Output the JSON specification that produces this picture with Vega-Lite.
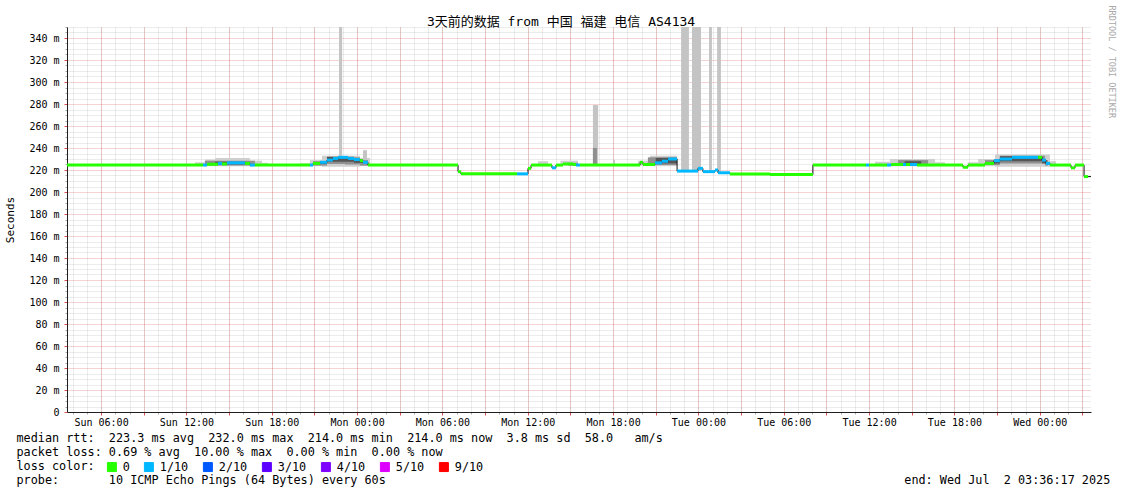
{
  "width": 1024,
  "height": 385,
  "autosize": {"type": "none"},
  "padding": {"left": 67, "top": 27, "right": 30, "bottom": 82},
  "config": {"view": {"stroke": null}, "font": "DejaVu Sans Mono", "axis": {"labelFont": "DejaVu Sans Mono", "titleFont": "DejaVu Sans Mono"}},
  "datasets": {
    "med": [
      {"s": "2025-06-29T03:36:17", "e": "2025-06-29T13:10", "m": 224.5, "l": "0"},
      {"s": "2025-06-29T13:10", "e": "2025-06-29T13:27", "m": 224.5, "l": "1/10"},
      {"s": "2025-06-29T13:27", "e": "2025-06-29T14:13", "m": 225.2, "l": "0"},
      {"s": "2025-06-29T14:13", "e": "2025-06-29T14:30", "m": 226, "l": "1/10"},
      {"s": "2025-06-29T14:30", "e": "2025-06-29T14:51", "m": 225.5, "l": "0"},
      {"s": "2025-06-29T14:51", "e": "2025-06-29T16:07", "m": 226.5, "l": "1/10"},
      {"s": "2025-06-29T16:07", "e": "2025-06-29T16:28", "m": 226, "l": "0"},
      {"s": "2025-06-29T16:28", "e": "2025-06-29T16:49", "m": 224.5, "l": "1/10"},
      {"s": "2025-06-29T16:49", "e": "2025-06-29T20:41", "m": 224.5, "l": "0"},
      {"s": "2025-06-29T20:41", "e": "2025-06-29T20:54", "m": 224.5, "l": "1/10"},
      {"s": "2025-06-29T20:54", "e": "2025-06-29T21:24", "m": 226, "l": "0"},
      {"s": "2025-06-29T21:24", "e": "2025-06-29T21:53", "m": 227, "l": "1/10"},
      {"s": "2025-06-29T21:53", "e": "2025-06-29T22:18", "m": 229, "l": "1/10"},
      {"s": "2025-06-29T22:18", "e": "2025-06-29T22:40", "m": 230.5, "l": "1/10"},
      {"s": "2025-06-29T22:40", "e": "2025-06-29T23:22", "m": 231.5, "l": "1/10"},
      {"s": "2025-06-29T23:22", "e": "2025-06-29T23:47", "m": 230.5, "l": "1/10"},
      {"s": "2025-06-29T23:47", "e": "2025-06-30T00:12", "m": 229.5, "l": "1/10"},
      {"s": "2025-06-30T00:12", "e": "2025-06-30T00:25", "m": 228.5, "l": "0"},
      {"s": "2025-06-30T00:25", "e": "2025-06-30T00:46", "m": 227, "l": "1/10"},
      {"s": "2025-06-30T00:46", "e": "2025-06-30T07:06", "m": 224.5, "l": "0"},
      {"s": "2025-06-30T07:06", "e": "2025-06-30T07:18", "m": 218.5, "l": "0"},
      {"s": "2025-06-30T07:18", "e": "2025-06-30T11:15", "m": 216.5, "l": "0"},
      {"s": "2025-06-30T11:15", "e": "2025-06-30T12:01", "m": 216.5, "l": "1/10"},
      {"s": "2025-06-30T12:01", "e": "2025-06-30T12:14", "m": 221.5, "l": "0"},
      {"s": "2025-06-30T12:14", "e": "2025-06-30T13:42", "m": 224.5, "l": "0"},
      {"s": "2025-06-30T13:42", "e": "2025-06-30T13:59", "m": 222, "l": "1/10"},
      {"s": "2025-06-30T13:59", "e": "2025-06-30T14:29", "m": 224.5, "l": "0"},
      {"s": "2025-06-30T14:29", "e": "2025-06-30T15:11", "m": 225.5, "l": "0"},
      {"s": "2025-06-30T15:11", "e": "2025-06-30T15:24", "m": 225, "l": "0"},
      {"s": "2025-06-30T15:24", "e": "2025-06-30T15:40", "m": 224.5, "l": "1/10"},
      {"s": "2025-06-30T15:40", "e": "2025-06-30T19:54", "m": 224.5, "l": "0"},
      {"s": "2025-06-30T19:54", "e": "2025-06-30T20:06", "m": 227, "l": "0"},
      {"s": "2025-06-30T20:06", "e": "2025-06-30T20:57", "m": 225, "l": "0"},
      {"s": "2025-06-30T20:57", "e": "2025-06-30T21:26", "m": 226.5, "l": "1/10"},
      {"s": "2025-06-30T21:26", "e": "2025-06-30T21:52", "m": 228, "l": "1/10"},
      {"s": "2025-06-30T21:52", "e": "2025-06-30T22:30", "m": 230, "l": "1/10"},
      {"s": "2025-06-30T22:30", "e": "2025-06-30T23:58", "m": 219, "l": "1/10"},
      {"s": "2025-06-30T23:58", "e": "2025-07-01T00:19", "m": 221.5, "l": "1/10"},
      {"s": "2025-07-01T00:19", "e": "2025-07-01T01:10", "m": 218.5, "l": "1/10"},
      {"s": "2025-07-01T01:10", "e": "2025-07-01T01:23", "m": 220, "l": "1/10"},
      {"s": "2025-07-01T01:23", "e": "2025-07-01T02:13", "m": 217.5, "l": "1/10"},
      {"s": "2025-07-01T02:13", "e": "2025-07-01T05:02", "m": 216.3, "l": "0"},
      {"s": "2025-07-01T05:02", "e": "2025-07-01T08:03", "m": 215.8, "l": "0"},
      {"s": "2025-07-01T08:03", "e": "2025-07-01T11:47", "m": 224.5, "l": "0"},
      {"s": "2025-07-01T11:47", "e": "2025-07-01T12:00", "m": 224.5, "l": "1/10"},
      {"s": "2025-07-01T12:00", "e": "2025-07-01T13:16", "m": 224.5, "l": "0"},
      {"s": "2025-07-01T13:16", "e": "2025-07-01T13:33", "m": 224.5, "l": "1/10"},
      {"s": "2025-07-01T13:33", "e": "2025-07-01T14:23", "m": 225, "l": "0"},
      {"s": "2025-07-01T14:23", "e": "2025-07-01T14:36", "m": 225, "l": "1/10"},
      {"s": "2025-07-01T14:36", "e": "2025-07-01T14:53", "m": 225, "l": "0"},
      {"s": "2025-07-01T14:53", "e": "2025-07-01T15:22", "m": 225, "l": "1/10"},
      {"s": "2025-07-01T15:22", "e": "2025-07-01T18:36", "m": 224.5, "l": "0"},
      {"s": "2025-07-01T18:36", "e": "2025-07-01T18:57", "m": 222.5, "l": "0"},
      {"s": "2025-07-01T18:57", "e": "2025-07-01T20:09", "m": 224.5, "l": "0"},
      {"s": "2025-07-01T20:09", "e": "2025-07-01T20:47", "m": 226, "l": "0"},
      {"s": "2025-07-01T20:47", "e": "2025-07-01T21:12", "m": 228.5, "l": "1/10"},
      {"s": "2025-07-01T21:12", "e": "2025-07-01T22:03", "m": 230, "l": "1/10"},
      {"s": "2025-07-01T22:03", "e": "2025-07-01T23:53", "m": 231.5, "l": "1/10"},
      {"s": "2025-07-01T23:53", "e": "2025-07-02T00:10", "m": 231.5, "l": "0"},
      {"s": "2025-07-02T00:10", "e": "2025-07-02T00:26", "m": 229, "l": "1/10"},
      {"s": "2025-07-02T00:26", "e": "2025-07-02T00:43", "m": 226, "l": "1/10"},
      {"s": "2025-07-02T00:43", "e": "2025-07-02T02:12", "m": 224.5, "l": "0"},
      {"s": "2025-07-02T02:12", "e": "2025-07-02T02:29", "m": 222, "l": "0"},
      {"s": "2025-07-02T02:29", "e": "2025-07-02T03:07", "m": 224.5, "l": "0"},
      {"s": "2025-07-02T03:07", "e": "2025-07-02T03:24", "m": 214, "l": "0"},
      {"s": "2025-07-02T03:36:17", "e": "2025-07-02T03:36:17", "m": 214, "l": "0"}
    ],
    "smoke": [
      {"s": "2025-06-29T12:36", "e": "2025-06-29T13:18", "lo": 224, "hi": 227, "k": "light"},
      {"s": "2025-06-29T13:18", "e": "2025-06-29T14:01", "lo": 223.5, "hi": 229.5, "k": "light"},
      {"s": "2025-06-29T14:01", "e": "2025-06-29T16:28", "lo": 223.5, "hi": 231, "k": "light"},
      {"s": "2025-06-29T16:28", "e": "2025-06-29T17:19", "lo": 223.5, "hi": 228.5, "k": "light"},
      {"s": "2025-06-29T17:19", "e": "2025-06-29T17:44", "lo": 224, "hi": 226.5, "k": "light"},
      {"s": "2025-06-29T19:59", "e": "2025-06-29T20:41", "lo": 224, "hi": 226, "k": "light"},
      {"s": "2025-06-29T20:41", "e": "2025-06-29T21:32", "lo": 223.5, "hi": 229, "k": "light"},
      {"s": "2025-06-29T21:32", "e": "2025-06-30T00:12", "lo": 223, "hi": 233, "k": "light"},
      {"s": "2025-06-30T00:12", "e": "2025-06-30T00:55", "lo": 223.5, "hi": 231, "k": "light"},
      {"s": "2025-06-30T12:43", "e": "2025-06-30T13:26", "lo": 224, "hi": 228, "k": "light"},
      {"s": "2025-06-30T14:18", "e": "2025-06-30T15:32", "lo": 224, "hi": 228.5, "k": "light"},
      {"s": "2025-06-30T19:45", "e": "2025-06-30T20:36", "lo": 224, "hi": 228.5, "k": "light"},
      {"s": "2025-06-30T20:36", "e": "2025-06-30T22:30", "lo": 223.5, "hi": 233, "k": "light"},
      {"s": "2025-07-01T12:25", "e": "2025-07-01T13:28", "lo": 224, "hi": 227.5, "k": "light"},
      {"s": "2025-07-01T13:28", "e": "2025-07-01T16:38", "lo": 223.5, "hi": 230, "k": "light"},
      {"s": "2025-07-01T16:38", "e": "2025-07-01T17:20", "lo": 224, "hi": 227, "k": "light"},
      {"s": "2025-07-01T18:57", "e": "2025-07-01T19:40", "lo": 224, "hi": 227, "k": "light"},
      {"s": "2025-07-01T19:40", "e": "2025-07-01T20:51", "lo": 223.5, "hi": 230, "k": "light"},
      {"s": "2025-07-01T20:51", "e": "2025-07-02T00:43", "lo": 223, "hi": 234, "k": "light"},
      {"s": "2025-07-02T00:43", "e": "2025-07-02T01:09", "lo": 224, "hi": 228, "k": "light"},
      {"s": "2025-06-29T22:44", "e": "2025-06-29T22:57", "lo": 226, "hi": 350, "k": "spike"},
      {"s": "2025-06-30T00:25", "e": "2025-06-30T00:42", "lo": 226, "hi": 238, "k": "spike"},
      {"s": "2025-06-30T16:35", "e": "2025-06-30T16:57", "lo": 224, "hi": 279, "k": "spike"},
      {"s": "2025-06-30T18:00", "e": "2025-06-30T18:08", "lo": 224, "hi": 229, "k": "spike"},
      {"s": "2025-06-30T22:47", "e": "2025-06-30T23:20", "lo": 219, "hi": 350, "k": "spike"},
      {"s": "2025-06-30T23:33", "e": "2025-07-01T00:11", "lo": 219, "hi": 350, "k": "spike"},
      {"s": "2025-07-01T00:45", "e": "2025-07-01T00:57", "lo": 218, "hi": 350, "k": "spike"},
      {"s": "2025-07-01T01:19", "e": "2025-07-01T01:35", "lo": 217, "hi": 350, "k": "spike"},
      {"s": "2025-06-29T13:18", "e": "2025-06-29T16:49", "lo": 224, "hi": 228.5, "k": "mid"},
      {"s": "2025-06-29T20:54", "e": "2025-06-29T21:53", "lo": 224, "hi": 228, "k": "mid"},
      {"s": "2025-06-29T21:53", "e": "2025-06-29T23:09", "lo": 225.5, "hi": 232, "k": "mid"},
      {"s": "2025-06-29T23:09", "e": "2025-06-30T00:12", "lo": 225, "hi": 231.5, "k": "mid"},
      {"s": "2025-06-30T00:12", "e": "2025-06-30T00:46", "lo": 224, "hi": 229, "k": "mid"},
      {"s": "2025-06-30T14:50", "e": "2025-06-30T15:32", "lo": 224, "hi": 226.5, "k": "mid"},
      {"s": "2025-06-30T16:35", "e": "2025-06-30T16:52", "lo": 224, "hi": 240, "k": "mid"},
      {"s": "2025-06-30T20:27", "e": "2025-06-30T22:30", "lo": 224.5, "hi": 231.5, "k": "mid"},
      {"s": "2025-07-01T14:02", "e": "2025-07-01T16:09", "lo": 224, "hi": 229, "k": "mid"},
      {"s": "2025-07-01T20:09", "e": "2025-07-01T21:12", "lo": 224.5, "hi": 229, "k": "mid"},
      {"s": "2025-07-01T21:12", "e": "2025-07-02T00:22", "lo": 226, "hi": 233, "k": "mid"},
      {"s": "2025-07-02T00:22", "e": "2025-07-02T00:35", "lo": 224, "hi": 229, "k": "mid"},
      {"s": "2025-06-29T14:01", "e": "2025-06-29T16:07", "lo": 225, "hi": 227.5, "k": "dark"},
      {"s": "2025-06-29T21:24", "e": "2025-06-29T21:53", "lo": 225.5, "hi": 228, "k": "dark"},
      {"s": "2025-06-29T21:53", "e": "2025-06-29T23:47", "lo": 227.5, "hi": 232, "k": "dark"},
      {"s": "2025-06-29T23:47", "e": "2025-06-30T00:25", "lo": 226.5, "hi": 230, "k": "dark"},
      {"s": "2025-06-30T21:00", "e": "2025-06-30T22:30", "lo": 226, "hi": 231, "k": "dark"},
      {"s": "2025-07-01T14:30", "e": "2025-07-01T15:40", "lo": 225, "hi": 228, "k": "dark"},
      {"s": "2025-07-01T20:47", "e": "2025-07-01T21:12", "lo": 226, "hi": 229.5, "k": "dark"},
      {"s": "2025-07-01T21:12", "e": "2025-07-02T00:10", "lo": 228, "hi": 232.5, "k": "dark"},
      {"s": "2025-07-02T00:10", "e": "2025-07-02T00:26", "lo": 226, "hi": 230, "k": "dark"}
    ]
  },
  "resolve": {"axis": {"x": "independent", "y": "independent"}},
  "layer": [
    {
      "data": {"name": "smoke"},
      "transform": [{"filter": {"field": "k", "oneOf": ["light", "spike"]}}],
      "mark": {"type": "rect"},
      "encoding": {
        "x": {"field": "s", "type": "temporal", "scale": {"nice": false},
          "axis": {"orient": "bottom", "grid": true, "gridColor": "#8f8f8f", "gridOpacity": 0.35, "gridDash": [1, 1], "gridWidth": 1, "tickCount": 72, "labels": false, "domain": false, "ticks": true, "tickSize": 2, "tickColor": "#a8a8a8", "title": null}},
        "x2": {"field": "e"},
        "y": {"field": "lo", "type": "quantitative", "scale": {"domain": [0, 350], "nice": false, "zero": false},
          "axis": {"orient": "left", "grid": true, "gridColor": "#8f8f8f", "gridOpacity": 0.35, "gridDash": [1, 1], "gridWidth": 1, "values": [5,10,15,25,30,35,45,50,55,65,70,75,85,90,95,105,110,115,125,130,135,145,150,155,165,170,175,185,190,195,205,210,215,225,230,235,245,250,255,265,270,275,285,290,295,305,310,315,325,330,335,345,350], "labels": false, "domain": false, "ticks": true, "tickSize": 2, "tickColor": "#a8a8a8", "title": null}},
        "y2": {"field": "hi"},
        "fill": {"field": "k", "type": "nominal", "scale": {"domain": ["light", "spike", "mid", "dark"], "range": ["#cfcfcf", "#c4c4c4", "#8f8f8f", "#555555"]}, "legend": null}
      }
    },
    {
      "data": {"name": "smoke"},
      "transform": [{"filter": {"field": "k", "oneOf": ["mid", "dark"]}}],
      "mark": {"type": "rect"},
      "encoding": {
        "x": {"field": "s", "type": "temporal", "scale": {"nice": false},
          "axis": {"orient": "top", "grid": false, "labels": false, "ticks": false, "domain": false, "title": "3天前的数据 from 中国 福建 电信 AS4134", "titleFont": "DejaVu Sans Mono, Noto Sans CJK SC", "titleFontSize": 13, "titleFontWeight": "normal", "titleColor": "#000000", "titleX": 493.5, "titleY": -6, "titleAlign": "center", "titleBaseline": "middle"}},
        "x2": {"field": "e"},
        "y": {"field": "lo", "type": "quantitative", "scale": {"domain": [0, 350], "nice": false, "zero": false}, "axis": null},
        "y2": {"field": "hi"},
        "fill": {"field": "k", "type": "nominal", "scale": {"domain": ["light", "spike", "mid", "dark"], "range": ["#cfcfcf", "#c4c4c4", "#8f8f8f", "#555555"]}, "legend": null}
      }
    },
    {
      "data": {"name": "med"},
      "mark": {"type": "line", "interpolate": "step-after", "color": "#111111", "strokeWidth": 1},
      "encoding": {
        "x": {"field": "s", "type": "temporal", "scale": {"nice": false},
          "axis": {"orient": "bottom", "grid": true, "gridColor": "#de4f4f", "gridOpacity": 0.5, "gridDash": [1, 1], "gridWidth": 1, "tickCount": 24, "labels": false, "domain": false, "ticks": true, "tickSize": 3, "tickColor": "#de4f4f", "title": null}},
        "y": {"field": "m", "type": "quantitative", "scale": {"domain": [0, 350], "nice": false, "zero": false},
          "axis": {"orient": "left", "grid": true, "gridColor": "#de4f4f", "gridOpacity": 0.5, "gridDash": [1, 1], "gridWidth": 1, "values": [0,20,40,60,80,100,120,140,160,180,200,220,240,260,280,300,320,340], "labelExpr": "datum.value == 0 ? '0\u00a0\u00a0' : datum.value + '\u00a0m'", "labelFontSize": 10, "labelColor": "#000000", "labelPadding": 5, "labelOverlap": false, "ticks": true, "tickSize": 3, "tickColor": "#de4f4f", "domain": true, "domainColor": "#1f1f1f", "domainWidth": 1, "title": "Seconds", "titleFontSize": 11, "titleFontWeight": "normal", "titleColor": "#000000", "titleAngle": 270, "titleX": -57, "titleY": 192.5, "titleAlign": "center", "titleBaseline": "middle"}}
      }
    },
    {
      "data": {"name": "med"},
      "mark": {"type": "rule", "strokeWidth": 3},
      "encoding": {
        "x": {"field": "s", "type": "temporal", "scale": {"nice": false},
          "axis": {"orient": "bottom", "grid": false, "tickCount": 12, "format": "%a %H:%M", "ticks": false, "domain": true, "domainColor": "#1f1f1f", "domainWidth": 1, "labelFontSize": 10, "labelColor": "#000000", "labelPadding": 5, "labelFlush": false, "labelOverlap": false,
            "title": ["median rtt:\u00a0\u00a0223.3 ms avg\u00a0\u00a0232.0 ms max\u00a0\u00a0214.0 ms min\u00a0\u00a0214.0 ms now\u00a0\u00a03.8 ms sd\u00a0\u00a058.0\u00a0\u00a0\u00a0am/s", "packet loss: 0.69 % avg\u00a0\u00a010.00 % max\u00a0\u00a00.00 % min\u00a0\u00a00.00 % now", "loss color:", "probe:\u00a0\u00a0\u00a0\u00a0\u00a0\u00a0\u00a010 ICMP Echo Pings (64 Bytes) every 60s\u00a0\u00a0\u00a0\u00a0\u00a0\u00a0\u00a0\u00a0\u00a0\u00a0\u00a0\u00a0\u00a0\u00a0\u00a0\u00a0\u00a0\u00a0\u00a0\u00a0\u00a0\u00a0\u00a0\u00a0\u00a0\u00a0\u00a0\u00a0\u00a0\u00a0\u00a0\u00a0\u00a0\u00a0\u00a0\u00a0\u00a0\u00a0\u00a0\u00a0\u00a0\u00a0\u00a0\u00a0\u00a0\u00a0\u00a0\u00a0\u00a0\u00a0\u00a0\u00a0\u00a0\u00a0\u00a0\u00a0\u00a0\u00a0\u00a0\u00a0\u00a0\u00a0\u00a0\u00a0\u00a0\u00a0\u00a0\u00a0\u00a0\u00a0\u00a0\u00a0\u00a0end: Wed Jul\u00a0\u00a02 03:36:17 2025"],
            "titleFontSize": 11.8, "titleFontWeight": "normal", "titleColor": "#000000", "titleX": -51, "titleY": 20, "titleAlign": "left", "titleBaseline": "top", "titleLineHeight": 14}},
        "x2": {"field": "e"},
        "y": {"field": "m", "type": "quantitative", "scale": {"domain": [0, 350], "nice": false, "zero": false},
          "axis": {"orient": "right", "grid": false, "labels": false, "ticks": false, "domain": false, "title": "RRDTOOL / TOBI OETIKER", "titleFontSize": 8.5, "titleFontWeight": "normal", "titleColor": "#a8a8a8", "titleAngle": 90, "titleX": 20, "titleY": -22, "titleAlign": "left", "titleBaseline": "middle"}},
        "color": {"field": "l", "type": "nominal",
          "scale": {"domain": ["0", "1/10", "2/10", "3/10", "4/10", "5/10", "9/10"], "range": ["#26ff00", "#00b8ff", "#0059ff", "#5e00ff", "#7e00ff", "#dd00ff", "#ff0000"]},
          "legend": {"orient": "none", "legendX": 39, "legendY": 434, "direction": "horizontal", "title": null, "symbolType": "square", "symbolSize": 81, "symbolStrokeWidth": 1, "symbolOpacity": 1, "labelFont": "DejaVu Sans Mono", "labelFontSize": 11.8, "labelColor": "#000000", "labelOffset": 5, "columnPadding": 12, "padding": 0,
            "encode": {"symbols": {"update": {"fill": {"scale": "color", "field": "value"}, "stroke": {"value": "#000000"}, "strokeWidth": {"value": 1}, "opacity": {"value": 1}}}}}}
      }
    }
  ]
}
